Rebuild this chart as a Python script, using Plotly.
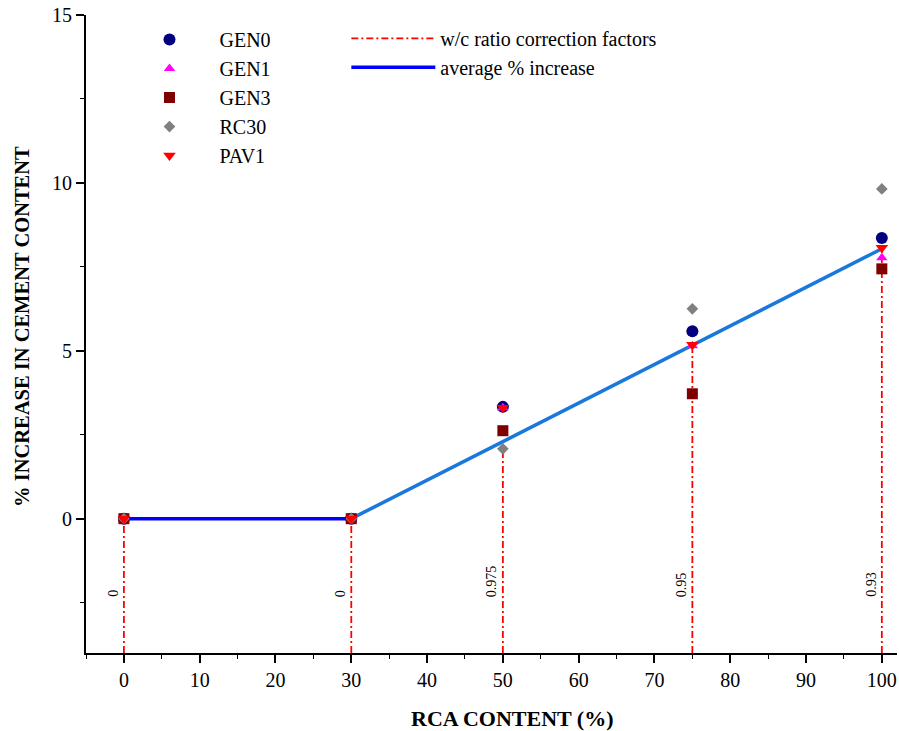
import plotly.graph_objects as go

rca = [0, 30, 50, 75, 100]
gen0 = [0, 0, 3.33, 5.58, 8.36]
gen1 = [0, 0, 3.30, 5.15, 7.77]
gen3 = [0, 0, 2.62, 3.72, 7.44]
rc30 = [0, 0, 2.08, 6.25, 9.82]
pav1 = [0, 0, 3.30, 5.18, 8.07]
avg = [0, 0, 2.30, 5.17, 8.04]
wc_factors = ["0", "0", "0.975", "0.95", "0.93"]

SERIF = "Liberation Serif, Times New Roman, serif"

fig = go.Figure()

# w/c ratio correction factor verticals
for i, (x, top) in enumerate(zip(rca, avg)):
    fig.add_trace(go.Scatter(
        x=[x, x], y=[-4, top], mode="lines",
        line=dict(color="#ff0000", width=1.8, dash="7px,3px,2px,3px"),
        name="w/c ratio correction factors", legend="legend2",
        showlegend=(i == 0), hoverinfo="skip"))

# average line
fig.add_trace(go.Scatter(
    x=rca[:2], y=avg[:2], mode="lines",
    line=dict(color="#0000ff", width=3.5),
    name="average % increase", legend="legend2"))
fig.add_trace(go.Scatter(
    x=rca[1:], y=avg[1:], mode="lines",
    line=dict(color="#1a78dc", width=3.5),
    name="average % increase", legend="legend2", showlegend=False))

series = [
    ("GEN0", gen0, "circle", "#000080", 12),
    ("GEN1", gen1, "triangle-up", "#ff00ff", 10),
    ("GEN3", gen3, "square", "#7f0000", 11),
    ("RC30", rc30, "diamond", "#808080", 9),
    ("PAV1", pav1, "triangle-down", "#ff0000", 11),
]
for name, vals, sym, col, sz in series:
    fig.add_trace(go.Scatter(
        x=rca, y=vals, mode="markers", name=name, legendgroup=name,
        marker=dict(symbol=sym, color=col, size=sz, line=dict(width=0)),
        legend="legend"))

for x, lab in zip(rca, wc_factors):
    fig.add_annotation(x=x, y=-2.39, text=lab, textangle=-90, showarrow=False,
                       xanchor="right", yanchor="bottom", xshift=-1,
                       font=dict(family=SERIF, size=14, color="black"))

# axis titles
fig.add_annotation(xref="paper", yref="paper", x=0.5265, y=-0.1025,
                   text="<b>RCA CONTENT (%)</b>", showarrow=False,
                   xanchor="center", yanchor="middle",
                   font=dict(family=SERIF, size=22, color="black"))
fig.add_annotation(xref="paper", yref="paper", x=-0.079, y=0.5125,
                   text="<b>% INCREASE IN CEMENT CONTENT</b>", showarrow=False,
                   textangle=-90, xanchor="center", yanchor="middle",
                   font=dict(family=SERIF, size=20.5, color="black"))

axis_common = dict(
    showgrid=False, zeroline=False, showline=True, linecolor="black", linewidth=2,
    ticks="outside", ticklen=8, tickwidth=2, tickcolor="black", automargin=False,
    tickfont=dict(family=SERIF, size=20, color="black"),
    minor=dict(ticks="outside", ticklen=4, tickwidth=1, tickcolor="black"),
)

fig.update_xaxes(range=[-5, 102], tickvals=list(range(0, 101, 10)),
                 minor_dtick=5, minor_tick0=0, **axis_common)
fig.update_yaxes(range=[-4, 15], tickvals=[0, 5, 10, 15],
                 minor_dtick=2.5, minor_tick0=0, **axis_common)

fig.update_layout(
    width=899, height=731,
    margin=dict(l=86, r=2, t=15, b=78),
    plot_bgcolor="white", paper_bgcolor="white",
    font=dict(family=SERIF, color="black"),
    legend=dict(x=0.0413, y=0.992, xanchor="left", yanchor="top",
                bgcolor="rgba(0,0,0,0)", font=dict(family=SERIF, size=20),
                itemwidth=90, tracegroupgap=0, traceorder="normal"),
    legend2=dict(x=0.321, y=0.994, xanchor="left", yanchor="top",
                 bgcolor="rgba(0,0,0,0)", font=dict(family=SERIF, size=20),
                 itemwidth=84, tracegroupgap=2),
)

fig.write_html("out.html", config={"displayModeBar": False},
               post_script="document.body.style.margin='0';")
